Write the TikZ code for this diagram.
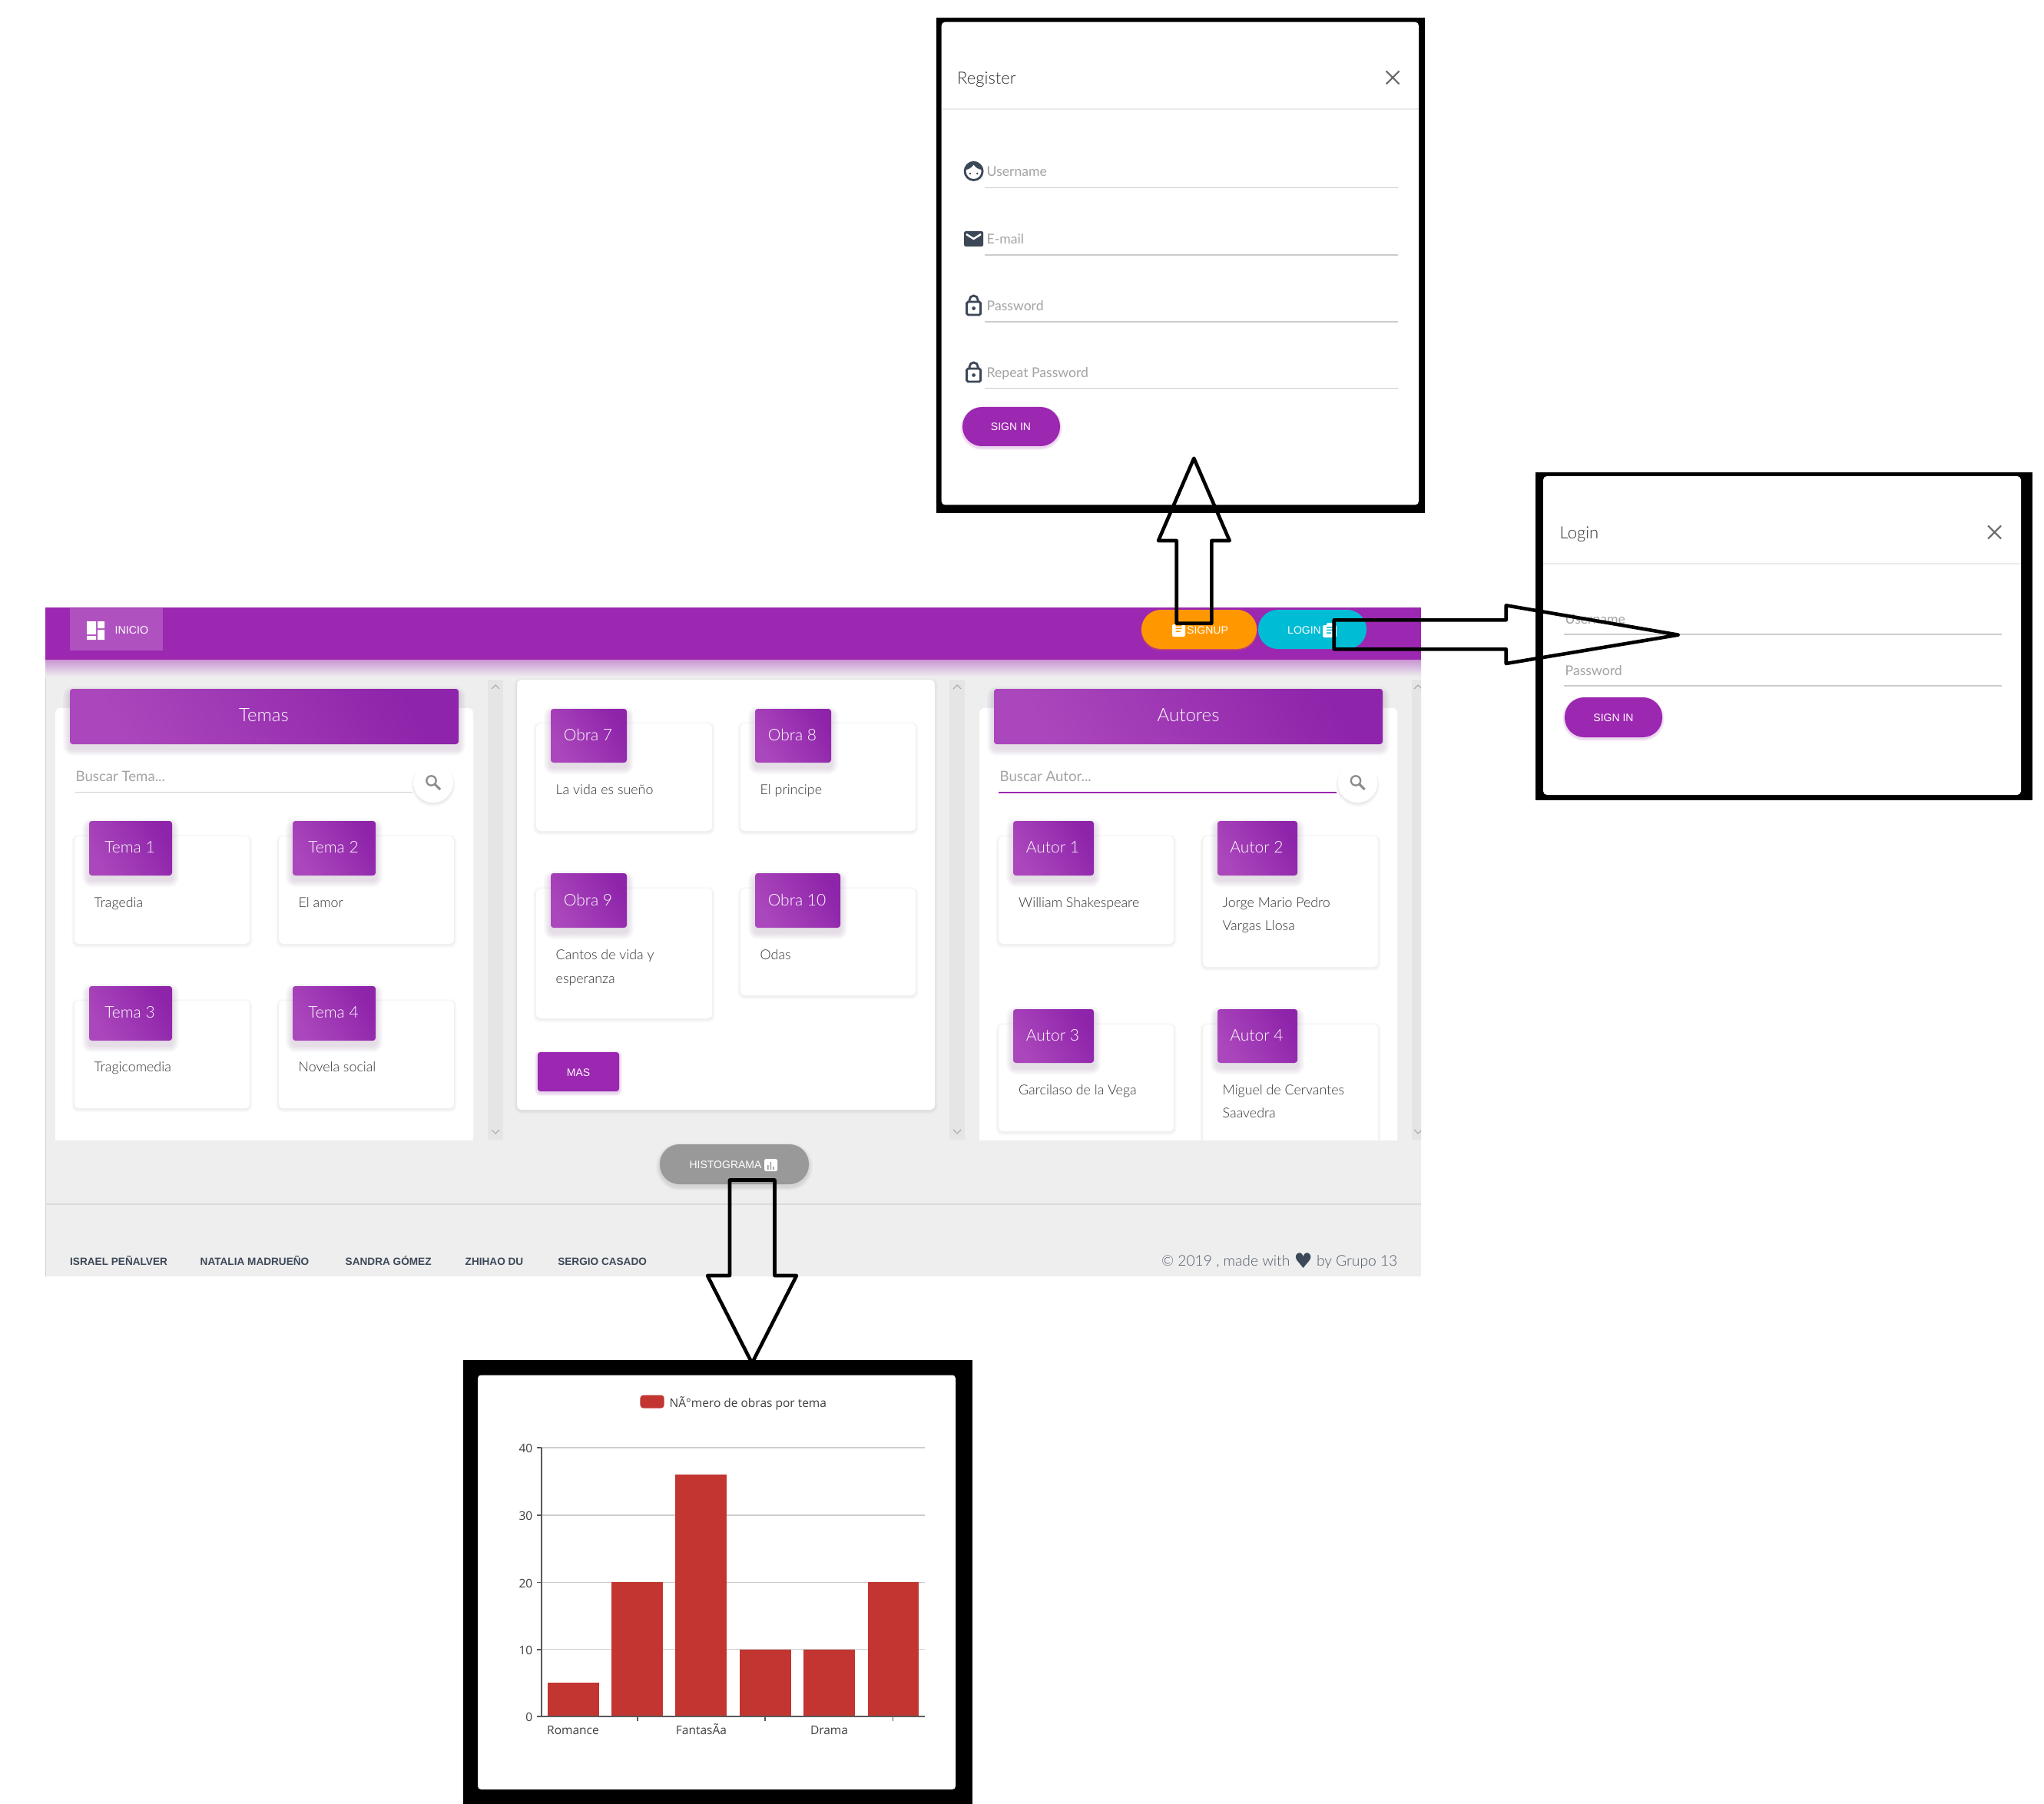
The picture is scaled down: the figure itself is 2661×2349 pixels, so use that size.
\documentclass[tikz,border=0pt]{standalone}
\usepackage{fontspec}
\setmainfont{Liberation Sans}
\newfontfamily\lightf{Lato Light}
\newfontfamily\regf{Lato}
\newfontfamily\chartf{Open Sans}
\newfontfamily\symf{DejaVu Sans}
\newcommand\fpx[1]{\fontsize{\fpeval{#1*0.2845}pt}{\fpeval{#1*0.34}pt}\selectfont}
\definecolor{mat}{HTML}{9C27B0}
\definecolor{matl}{HTML}{AB47BC}
\definecolor{matd}{HTML}{8E24AA}
\definecolor{pagebg}{HTML}{EEEEEE}
\definecolor{inkd}{HTML}{3C4858}
\definecolor{bar}{HTML}{C23531}
\definecolor{btnor}{HTML}{FF9800}
\definecolor{btncy}{HTML}{00BCD4}
\tikzset{
 lab/.style={anchor=mid west,inner sep=0pt,font=\lightf\fpx{17.8},text=black!80,yshift=.6pt},
 hold/.style={anchor=mid west,inner sep=0pt,font=\regf\fpx{17.6},text=black!36,yshift=.75pt},
 ctr/.style={anchor=center,inner sep=0pt},
 btntext/.style={anchor=mid,inner sep=0pt,font=\fpx{14},text=white,yshift=1pt},
 foot/.style={anchor=mid west,inner sep=0pt,font=\bfseries\fpx{13.6},text=inkd,yshift=1.1pt},
 ttl/.style={anchor=mid west,inner sep=0pt,font=\lightf\fpx{22},text=black!82,yshift=.6pt},
 chartlab/.style={anchor=mid,inner sep=0pt,font=\chartf\fpx{15.5},text=black!75,yshift=.9pt},
 charty/.style={anchor=mid east,inner sep=0pt,font=\chartf\fpx{15.5},text=black!75,yshift=.7pt},
 grad/.style={left color=matl,right color=matd,shading angle=120},
 blockarrow/.style={draw=black,line width=1.3pt,line join=round},
 field/.style={draw=black!20,line width=.4pt},
 iconl/.style={draw=inkd,line width=.8pt,line cap=round},
 scrollbar/.style={fill=black!10},
 chev/.style={draw=black!35,line width=.3pt},
 gridl/.style={draw=black!20,line width=.35pt},
 axisl/.style={draw=black!65,line width=.4pt},
}
% [radius pt] x1 y1 x2 y2 dy spread colour opacity
\newcommand\softshadow[9][1]{\foreach \s in {1,.8,.6,.4,.2}{\pgfmathsetmacro\rr{#1+#7*\s*0.2845}\fill[#8,opacity=#9,rounded corners=\rr pt] ({#2-#7*\s},{#3-#7*\s+#6}) rectangle ({#4+#7*\s},{#5+#7*\s+#6});}}
\newcommand\card[4]{\softshadow[1.6]{#1}{#2}{#3}{#4}{1.5}{4}{black}{.01}\fill[white,rounded corners=1.6pt] (#1,#2) rectangle (#3,#4);}
\newcommand\badge[6]{\softshadow{#2}{#3}{#4}{#5}{6}{9}{matd!50!black}{.028}\shade[grad,rounded corners=1pt] (#2,#3) rectangle (#4,#5);\node[ctr,font=\lightf\fpx{21},text=white] (#1) at ({(#2+#4)/2-1},{(#3+#5)/2-1}) {#6};}
\newcommand\searchicon[2]{\draw[black!45,line width=.65pt] (#1-2.5,#2-2.5) circle (6.2);\draw[black!45,line width=.9pt] (#1+2,#2+2) -- (#1+9,#2+9);}
\newcommand\closeicon[2]{\draw[black!58,line width=.6pt] (#1-8.5,#2-8.5) -- (#1+8.5,#2+8.5) (#1-8.5,#2+8.5) -- (#1+8.5,#2-8.5);}
\newcommand\lockicon[2]{\draw[iconl,rounded corners=.5pt] (#1-9,#2-3) rectangle (#1+9,#2+14);\draw[iconl] (#1-5.5,#2-3) -- (#1-5.5,#2-5.5) arc (180:360:5.5) -- (#1+5.5,#2-3);\fill[inkd] (#1,#2+5.5) circle (2.4);}
\newcommand\rowicon[3]{\fill[#3] (#1-4,#2-3) rectangle (#1+4,#2-1.5) (#1-4,#2+.7) rectangle (#1+4,#2+2.2) (#1-4,#2+4.4) rectangle (#1+2,#2+5.9);}
\begin{document}
\begin{tikzpicture}[x=0.01cm,y=-0.01cm]
\path[use as bounding box] (0,0) rectangle (2661,2349);
\fill[white] (0,0) rectangle (2661,2349);
% ---------- page ----------
\fill[pagebg] (59,859) rectangle (1850,1662);
\draw[black!12!pagebg,line width=.3pt] (59.5,859) -- (59.5,1662);
\shade[top color=mat!45!pagebg,bottom color=pagebg] (59,859) rectangle (1850,881);
\begin{scope}
\clip (59,860) rectangle (1850,1484);
% scrollbars
\fill[scrollbar] (635,885) rectangle (655,1484);
\fill[scrollbar] (1236,885) rectangle (1256,1484);
\fill[scrollbar] (1838,885) rectangle (1858,1484);
\draw[chev] (640,897) -- (645,892) -- (650,897) (640,1471) -- (645,1476) -- (650,1471);
\draw[chev] (1241,897) -- (1246,892) -- (1251,897) (1241,1471) -- (1246,1476) -- (1251,1471);
\draw[chev] (1841,897) -- (1846,892) -- (1851,897) (1841,1471) -- (1846,1476) -- (1851,1471);
% left panel
\fill[white,rounded corners=1.8pt] (72,922) rectangle (616,1510);
% right panel
\fill[white,rounded corners=1.8pt] (1275,922) rectangle (1819,1510);
% Temas
\card{97}{1089}{325}{1229}\card{363}{1089}{591}{1229}
\card{97}{1303}{325}{1443}\card{363}{1303}{591}{1443}
% Autores
\card{1300}{1089}{1528}{1229}\card{1566}{1089}{1794}{1259}
\card{1300}{1334}{1528}{1473}\card{1566}{1334}{1794}{1520}
\end{scope}
% middle panel
\softshadow[1.8]{673}{885}{1217}{1445}{1.5}{4}{black}{.012}
\fill[white,rounded corners=1.8pt] (673,885) rectangle (1217,1445);
\card{698}{942}{927}{1082}\card{964}{942}{1192}{1082}
\card{698}{1157}{927}{1326}\card{964}{1157}{1192}{1296}
% ---------- top bar ----------
\fill[mat] (59,791) rectangle (1850,859);
\fill[white,opacity=.2] (91,792) rectangle (212,847);
\fill[white] (113,809) rectangle (125,826) (127,809) rectangle (136,818) (127,820) rectangle (136,833) (113,828) rectangle (125,833);
\node[anchor=mid west,inner sep=0pt,font=\fpx{14.2},text=white,yshift=.8pt] (inicio) at (149,819.5) {INICIO};
\fill[orange!50!mat,opacity=.5,rounded corners=7.4pt] (1485,795) rectangle (1637,847);
\fill[btnor,rounded corners=7.2pt] (1486,794) rectangle (1636,845);
\fill[btncy,rounded corners=7.2pt] (1638,794) rectangle (1779,845);
\fill[white,rounded corners=.6pt] (1526,813) rectangle (1543,829);
\rowicon{1534.5}{817}{btnor}
\node[btntext] (signup) at (1572,820) {SIGNUP};
\node[btntext] (login) at (1698,820) {LOGIN};
\fill[white,rounded corners=.6pt] (1722,814) rectangle (1740,830) (1727,811) rectangle (1735,815);
\rowicon{1731}{819}{btncy}
% ---------- Temas column ----------
\softshadow{91}{897}{597}{969}{6}{9}{matd!50!black}{.028}
\shade[grad,rounded corners=1pt] (91,897) rectangle (597,969);
\node[ctr,font=\lightf\fpx{24},text=white] (temas) at (343.5,931) {Temas};
\node[hold,font=\regf\fpx{18.6}] (buscart) at (98,1011) {Buscar Tema...};
\draw[field] (98,1031.5) -- (537,1031.5);
\fill[black!4] (564,1022) circle (28);\fill[black!8] (564,1021) circle (26.5);\fill[white] (564,1019) circle (26);
\searchicon{564}{1019}
\badge{t1}{116}{1069}{224}{1140}{Tema 1}
\badge{t2}{381}{1069}{489}{1140}{Tema 2}
\badge{t3}{116}{1284}{224}{1355}{Tema 3}
\badge{t4}{381}{1284}{489}{1355}{Tema 4}
\node[lab] (l1) at (122,1174) {Tragedia};
\node[lab] (l2) at (388,1174) {El amor};
\node[lab] (l3) at (122,1388) {Tragicomedia};
\node[lab] (l4) at (388,1388) {Novela social};
% ---------- Obras ----------
\badge{o7}{717}{923}{816}{993}{Obra 7}
\badge{o8}{983}{923}{1082}{993}{Obra 8}
\badge{o9}{717}{1137}{816}{1208}{Obra 9}
\badge{o10}{983}{1137}{1094}{1208}{Obra 10}
\node[lab] (l5) at (723,1027) {La vida es sueño};
\node[lab] (l6) at (989,1027) {El principe};
\node[lab] (l7) at (723,1242) {Cantos de vida y};
\node[lab] (l7b) at (723,1273) {esperanza};
\node[lab] (l8) at (989,1242) {Odas};
\softshadow{700}{1370}{806}{1421}{2}{4}{matd}{.04}
\fill[mat,rounded corners=1pt] (700,1370) rectangle (806,1421);
\node[btntext] (mas) at (753,1396) {MAS};
% ---------- Autores ----------
\softshadow{1294}{897}{1800}{969}{6}{9}{matd!50!black}{.028}
\shade[grad,rounded corners=1pt] (1294,897) rectangle (1800,969);
\node[ctr,font=\lightf\fpx{24},text=white] (autores) at (1547,931) {Autores};
\node[hold,font=\regf\fpx{18.6}] (buscara) at (1301,1011) {Buscar Autor...};
\draw[mat,line width=.65pt] (1300,1032) -- (1740,1032);
\fill[black!4] (1767.5,1022) circle (28);\fill[black!8] (1767.5,1021) circle (26.5);\fill[white] (1767.5,1019) circle (26);
\searchicon{1767.5}{1019}
\badge{a1}{1319}{1069}{1424}{1140}{Autor 1}
\badge{a2}{1585}{1069}{1689}{1140}{Autor 2}
\badge{a3}{1319}{1314}{1424}{1384}{Autor 3}
\badge{a4}{1585}{1314}{1689}{1384}{Autor 4}
\node[lab] (l9) at (1325.5,1174) {William Shakespeare};
\node[lab] (l10) at (1591,1174) {Jorge Mario Pedro};
\node[lab] (l10b) at (1591,1204) {Vargas Llosa};
\node[lab] (l11) at (1325.5,1418) {Garcilaso de la Vega};
\node[lab] (l12) at (1591,1418) {Miguel de Cervantes};
\node[lab] (l12b) at (1591,1448) {Saavedra};
% ---------- histogram button + footer ----------
\softshadow[7.2]{859}{1490}{1053}{1542}{3}{5}{black}{.02}
\fill[black!40,rounded corners=7.2pt] (859,1490) rectangle (1053,1542);
\node[btntext] (histo) at (944.5,1516) {HISTOGRAMA};
\fill[white,rounded corners=.5pt] (995,1509) rectangle (1012,1525);
\fill[black!40] (999,1517) rectangle (1000.5,1523) (1002.5,1513) rectangle (1004,1523) (1006,1519) rectangle (1007.5,1523);
\draw[black!14,line width=.4pt] (59,1568) -- (1850,1568);
\node[foot] (f1) at (90.5,1642) {ISRAEL PEÑALVER};
\node[foot] (f2) at (260,1642) {NATALIA MADRUEÑO};
\node[foot] (f3) at (449,1642) {SANDRA GÓMEZ};
\node[foot] (f4) at (605,1642) {ZHIHAO DU};
\node[foot] (f5) at (725.6,1642) {SERGIO CASADO};
\node[anchor=mid east,inner sep=0pt,font=\lightf\fpx{19.2},text=inkd!90,yshift=.7pt] (copy) at (1820,1642) {© 2019 , made with \raisebox{-.85pt}{\symf\fpx{27}\textcolor{inkd}{♥}} by Grupo 13};
% ---------- Register dialog ----------
\fill[black] (1219,23) rectangle (1855,668);
\fill[white,rounded corners=1.4pt] (1225.6,28.6) rectangle (1847,657.5);
\node[ttl] (reg) at (1245.5,102) {Register};
\closeicon{1813}{101}
\draw[black!8,line width=.35pt] (1225.6,142) -- (1847,142);
\node[hold] (ru) at (1284,223) {Username};
\draw[field] (1282,244.6) -- (1820,244.6);
\node[hold] (rm) at (1284,311) {E-mail};
\draw[field] (1282,332) -- (1820,332);
\node[hold] (rp) at (1284,398) {Password};
\draw[field] (1282,419) -- (1820,419);
\node[hold] (rr) at (1284,485) {Repeat Password};
\draw[field] (1282,505.5) -- (1820,505.5);
% face icon
\draw[iconl] (1267.6,223) circle (11.5);
\fill[inkd] (1256.5,221) arc (180:360:11.1) .. controls (1274,221) and (1270,218) .. (1267.6,214.5) .. controls (1265,218) and (1261,221) .. (1256.5,221) -- cycle;
\fill[inkd] (1263,226) circle (1.4) (1272.2,226) circle (1.4);
% mail icon
\fill[inkd,rounded corners=.5pt] (1255,301) rectangle (1280,321);
\draw[white,line width=.7pt] (1258,305) -- (1267.5,311) -- (1277,305);
\lockicon{1267.6}{396}
\lockicon{1267.6}{483}
\softshadow[7.2]{1253}{530}{1380}{581}{2}{3}{mat}{.04}
\fill[mat,rounded corners=7.2pt] (1253,530) rectangle (1380,581);
\node[btntext] (rs) at (1316,555) {SIGN IN};
% ---------- Login dialog ----------
\fill[black] (1999,615) rectangle (2646,1042);
\fill[white,rounded corners=1.4pt] (2009,620) rectangle (2631,1035);
\node[ttl] (log) at (2030,694) {Login};
\closeicon{2596.6}{693}
\draw[black!8,line width=.35pt] (2009,734) -- (2631,734);
\node[hold] (lu) at (2037,806) {Username};
\draw[field] (2036,826) -- (2606,826);
\node[hold] (lp) at (2037,873) {Password};
\draw[field] (2036,893) -- (2606,893);
\softshadow[7.2]{2037}{908}{2164}{960}{2}{3}{mat}{.04}
\fill[mat,rounded corners=7.2pt] (2037,908) rectangle (2164,960);
\node[btntext] (ls) at (2100.5,934) {SIGN IN};
% ---------- chart ----------
\fill[black] (603,1771) rectangle (1266,2349);
\fill[white,rounded corners=1.2pt] (622,1790.5) rectangle (1244,2330);
\fill[bar,rounded corners=1.2pt] (833.4,1816.5) rectangle (864.7,1833.6);
\node[anchor=mid west,inner sep=0pt,font=\chartf\fpx{15.5},text=black!75,yshift=.7pt] (leg) at (871,1825.5) {NÃ°mero de obras por tema};
\foreach \yy in {1885,1973,2060.4,2147.8}{\draw[gridl] (705,\yy) -- (1204.4,\yy);\draw[axisl] (698.5,\yy) -- (705,\yy);}
\fill[bar] (713,2191.4) rectangle (780,2235);
\fill[bar] (796,2060.4) rectangle (863,2235);
\fill[bar] (879,1920) rectangle (946,2235);
\fill[bar] (963,2147.8) rectangle (1029.5,2235);
\fill[bar] (1046,2147.8) rectangle (1113,2235);
\fill[bar] (1129.6,2060.4) rectangle (1196,2235);
\draw[axisl] (705,1885) -- (705,2235);
\draw[axisl] (698.5,2235) -- (1204.4,2235);
\draw[axisl] (830,2235) -- (830,2241) (996,2235) -- (996,2241) (1162.6,2235) -- (1162.6,2241);
\node[charty] (y40) at (694,1885) {40};
\node[charty] (y30) at (694,1973) {30};
\node[charty] (y20) at (694,2060.4) {20};
\node[charty] (y10) at (694,2147.8) {10};
\node[charty] (y0) at (694,2235) {0};
\node[chartlab] (xr) at (746,2252.6) {Romance};
\node[chartlab] (xf) at (913,2252.6) {FantasÃa};
\node[chartlab] (xd) at (1079.5,2252.6) {Drama};
% ---------- block arrows ----------
\draw[blockarrow] (1531.7,811.7) -- (1531.7,704) -- (1508,704) -- (1554.3,596.7) -- (1600.7,704) -- (1577.3,704) -- (1577.3,811.7) -- cycle;
\draw[blockarrow] (1736.7,807.3) -- (1960.7,807.3) -- (1960.7,788.3) -- (2185,826.7) -- (1960.7,864) -- (1960.7,845.3) -- (1736.7,845.3) -- cycle;
\draw[blockarrow] (950,1536.5) -- (1008.5,1536.5) -- (1008.5,1661) -- (1037,1661) -- (979,1775) -- (921,1661) -- (950,1661) -- cycle;
\end{tikzpicture}
\end{document}
